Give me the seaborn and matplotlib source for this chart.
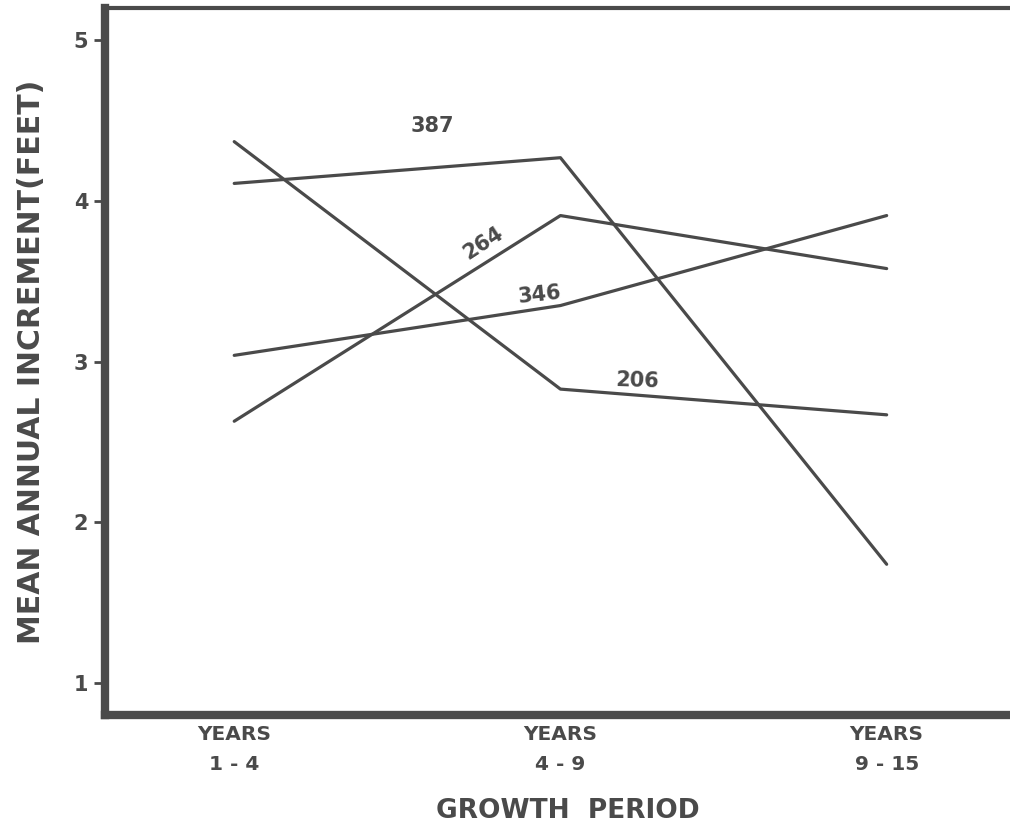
import numpy as np
import pandas as pd
import matplotlib
matplotlib.use("Agg")
import matplotlib.pyplot as plt
import seaborn as sns

# ---- data ----
periods = ["YEARS\n1 - 4", "YEARS\n4 - 9", "YEARS\n9 - 15"]
series_387 = [4.11, 4.27, 1.74]
series_206 = [4.37, 2.83, 2.67]
series_346 = [3.04, 3.35, 3.91]
series_264 = [2.63, 3.91, 3.58]
series_names = ["387", "206", "346", "264"]
yticks = [1, 2, 3, 4, 5]

ink = "#4a4a4a"
sns.set_theme(style="white")
plt.rcParams["font.family"] = ["DejaVu Sans"]

rows = []
for name, vals in zip(series_names, [series_387, series_206, series_346, series_264]):
    for i, v in enumerate(vals):
        rows.append({"series": name, "pos": i, "value": v})
df = pd.DataFrame(rows)

fig = plt.figure(figsize=(10.10, 8.26), dpi=100)
ax = fig.add_axes([0.104, 0.134, 0.916, 0.856])

sns.lineplot(data=df, x="pos", y="value", hue="series",
             palette={n: ink for n in series_names}, estimator=None,
             linewidth=2.3, legend=False, ax=ax, sort=False)

ax.set_xlim(-0.396, 2.44)
ax.set_ylim(0.80, 5.20)

ax.set_xticks(range(len(periods)))
ax.set_xticklabels(periods, fontsize=14.5, fontweight="bold", color=ink,
                   linespacing=1.75)
ax.set_yticks(yticks)
ax.set_yticklabels([str(t) for t in yticks], fontsize=15, fontweight="bold", color=ink)
ax.tick_params(axis="x", length=0, pad=7)
ax.tick_params(axis="y", length=8, width=2, color=ink, direction="out", pad=4,
               left=True)

for side in ["left", "bottom"]:
    ax.spines[side].set_linewidth(6)
    ax.spines[side].set_color(ink)
ax.spines["top"].set_linewidth(3)
ax.spines["top"].set_color(ink)
ax.spines["right"].set_visible(False)

ax.set_xlabel("GROWTH  PERIOD", fontsize=19, fontweight="bold", color=ink, labelpad=17)
ax.set_ylabel("MEAN ANNUAL INCREMENT(FEET)", fontsize=21.5, fontweight="bold",
              color=ink, labelpad=20)

# series labels
labels = [("387", 0.607, 4.47, 0), ("264", 0.764, 3.74, 33),
          ("346", 0.936, 3.42, 6), ("206", 1.236, 2.88, -2)]
for txt, x, y, rot in labels:
    ax.text(x, y, txt, fontsize=15, fontweight="bold", color=ink,
            ha="center", va="center", rotation=rot, rotation_mode="anchor")

ax.grid(False)
fig.savefig("out.png", dpi=100, facecolor="white")
